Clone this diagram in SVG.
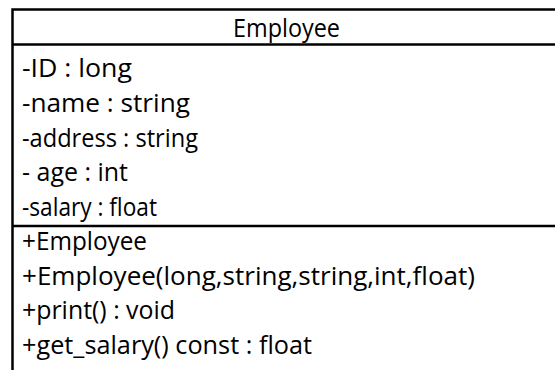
<svg xmlns="http://www.w3.org/2000/svg" width="555" height="370" viewBox="0 0 555 370">
  <style>
    .frame { fill: #ffffff; stroke: #000000; stroke-width: 2.5; }
    .rule { stroke: #000000; stroke-width: 2.5; }
    .label { font-family: "Open Sans", "Noto Sans", "Liberation Sans", sans-serif; font-size: 25px; fill: #000000; }
  </style>
  <rect width="555" height="370" fill="#ffffff"/>
  <!-- Employee class: name, attributes, operations -->
  <g id="employee">
    <rect class="frame" x="12.5" y="9.5" width="560" height="380"/>
    <line class="rule" x1="12" y1="44.5" x2="560" y2="44.5"/>
    <line class="rule" x1="12" y1="226" x2="560" y2="226"/>
    <text class="label" x="233" y="37" textLength="107" lengthAdjust="spacingAndGlyphs">Employee</text>
    <text class="label" x="22" y="77" textLength="110" lengthAdjust="spacingAndGlyphs">-ID : long</text>
    <text class="label" x="22" y="112" textLength="168" lengthAdjust="spacingAndGlyphs">-name : string</text>
    <text class="label" x="22" y="147" textLength="176" lengthAdjust="spacingAndGlyphs">-address : string</text>
    <text class="label" x="22" y="181" textLength="106" lengthAdjust="spacingAndGlyphs">- age : int</text>
    <text class="label" x="22" y="216" textLength="135" lengthAdjust="spacingAndGlyphs">-salary : float</text>
    <text class="label" x="22" y="250" textLength="125" lengthAdjust="spacingAndGlyphs">+Employee</text>
    <text class="label" x="22" y="285" textLength="453" lengthAdjust="spacingAndGlyphs">+Employee(long,string,string,int,float)</text>
    <text class="label" x="22" y="319" textLength="153" lengthAdjust="spacingAndGlyphs">+print() : void</text>
    <text class="label" x="22" y="354" textLength="290" lengthAdjust="spacingAndGlyphs">+get_salary() const : float</text>
  </g>
</svg>
